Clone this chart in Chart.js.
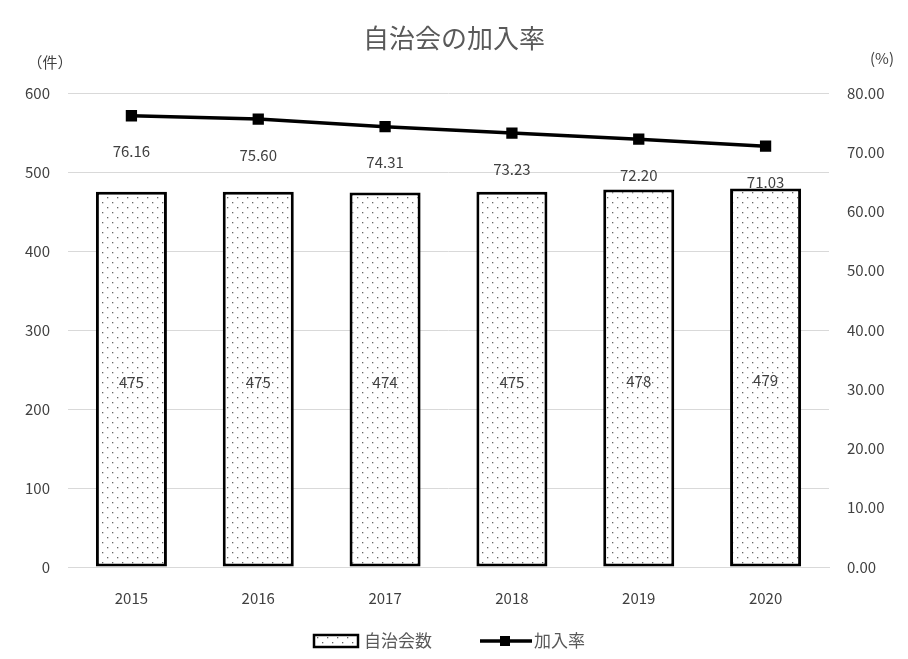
<!DOCTYPE html>
<html><head><meta charset="utf-8">
<script src="https://cdn.jsdelivr.net/npm/chart.js@4.4.0/dist/chart.umd.min.js"></script>
<style>html,body{margin:0;padding:0;background:#fff}#wrap{width:908px;height:659px}</style>
</head><body><div id="wrap"><canvas id="c" width="908" height="659"></canvas></div>
<script>
const categories = ['2015','2016','2017','2018','2019','2020'];
const countValues = [475,475,474,475,478,479];
const rateValues = [76.16,75.60,74.31,73.23,72.20,71.03];
const leftTicks = [0,100,200,300,400,500,600];
const rightTicks = [0,10,20,30,40,50,60,70,80];

function makePattern(){
  const p = document.createElement('canvas'); p.width = 10; p.height = 10;
  const g = p.getContext('2d');
  g.fillStyle = '#fff'; g.fillRect(0,0,10,10);
  g.fillStyle = '#666';
  g.fillRect(2,2,1.3,1.3); g.fillRect(7,7,1.3,1.3);
  return document.getElementById('c').getContext('2d').createPattern(p,'repeat');
}
const pat = makePattern();
const FONT = "'Noto Sans CJK JP','Noto Sans',sans-serif";
const TXT = '#404040';

const labelPlugin = {
  id:'labels',
  afterDatasetsDraw(chart){
    const ctx = chart.ctx; ctx.save();
    ctx.font = "15px " + FONT; ctx.fillStyle = TXT; ctx.textAlign='center'; ctx.textBaseline='middle';
    chart.getDatasetMeta(0).data.forEach((b,i)=>{
      ctx.fillText(String(countValues[i]), b.x, (b.y + b.base)/2 + 3);
    });
    chart.getDatasetMeta(1).data.forEach((p,i)=>{
      ctx.fillText(rateValues[i].toFixed(2), p.x, p.y + 36);
    });
    ctx.restore();
  },
  afterDraw(chart){
    const ctx = chart.ctx; ctx.save();
    ctx.fillStyle = '#595959'; ctx.textBaseline='middle'; ctx.textAlign='center';
    ctx.font = "26px " + FONT;
    ctx.fillText('自治会の加入率', 454, 38);
    ctx.font = "15px " + FONT; ctx.fillStyle = TXT;
    ctx.fillText('（件）', 50, 62);
    ctx.fillText('(%)', 882, 58);
    // legend
    const ly = 641;
    ctx.fillStyle = pat; ctx.fillRect(314, ly-6, 44, 12);
    ctx.lineWidth = 2.5; ctx.strokeStyle = '#000'; ctx.strokeRect(314, ly-6, 44, 12);
    ctx.fillStyle = '#595959'; ctx.font = "17px " + FONT; ctx.textAlign='left';
    ctx.fillText('自治会数', 364, ly);
    ctx.beginPath(); ctx.moveTo(480, ly); ctx.lineTo(532, ly); ctx.lineWidth=3.5; ctx.stroke();
    ctx.fillStyle='#000'; ctx.fillRect(500, ly-5, 10, 10);
    ctx.fillStyle = '#595959';
    ctx.fillText('加入率', 534, ly);
    ctx.restore();
  }
};

new Chart(document.getElementById('c'), {
  data:{
    labels: categories,
    datasets:[
      {type:'bar', label:'自治会数', data: countValues, yAxisID:'y', backgroundColor: pat,
       borderColor:'#000', borderWidth:3, borderSkipped:false, categoryPercentage:1, barPercentage:0.56, order:2},
      {type:'line', label:'加入率', data: rateValues, yAxisID:'y1', borderColor:'#000', borderWidth:3.5,
       pointStyle:'rect', pointRadius:5.5, pointBackgroundColor:'#000', pointBorderColor:'#000', order:1}
    ]
  },
  options:{
    responsive:false, animation:false, devicePixelRatio:1,
    layout:{padding:{top:93, bottom:42, left:0, right:0}},
    plugins:{legend:{display:false}, title:{display:false}, tooltip:{enabled:false}},
    scales:{
      x:{grid:{display:false, drawTicks:false}, border:{display:true, color:'#d9d9d9', width:1},
         ticks:{padding:22, color:TXT, font:{size:15, family:FONT}},
         afterFit(s){s.height = 50;}},
      y:{position:'left', min:0, max:600, afterBuildTicks(s){s.ticks = leftTicks.map(v=>({value:v}));},
         grid:{color:'#d9d9d9', drawTicks:false}, border:{display:false},
         ticks:{padding:18, color:TXT, font:{size:15, family:FONT}},
         afterFit(s){s.width = 68;}},
      y1:{position:'right', min:0, max:80, afterBuildTicks(s){s.ticks = rightTicks.map(v=>({value:v}));},
         grid:{display:false, drawTicks:false}, border:{display:false},
         ticks:{padding:18, color:TXT, font:{size:15, family:FONT}, callback:v=>Number(v).toFixed(2)},
         afterFit(s){s.width = 79;}}
    }
  },
  plugins:[labelPlugin]
});
</script></body></html>
